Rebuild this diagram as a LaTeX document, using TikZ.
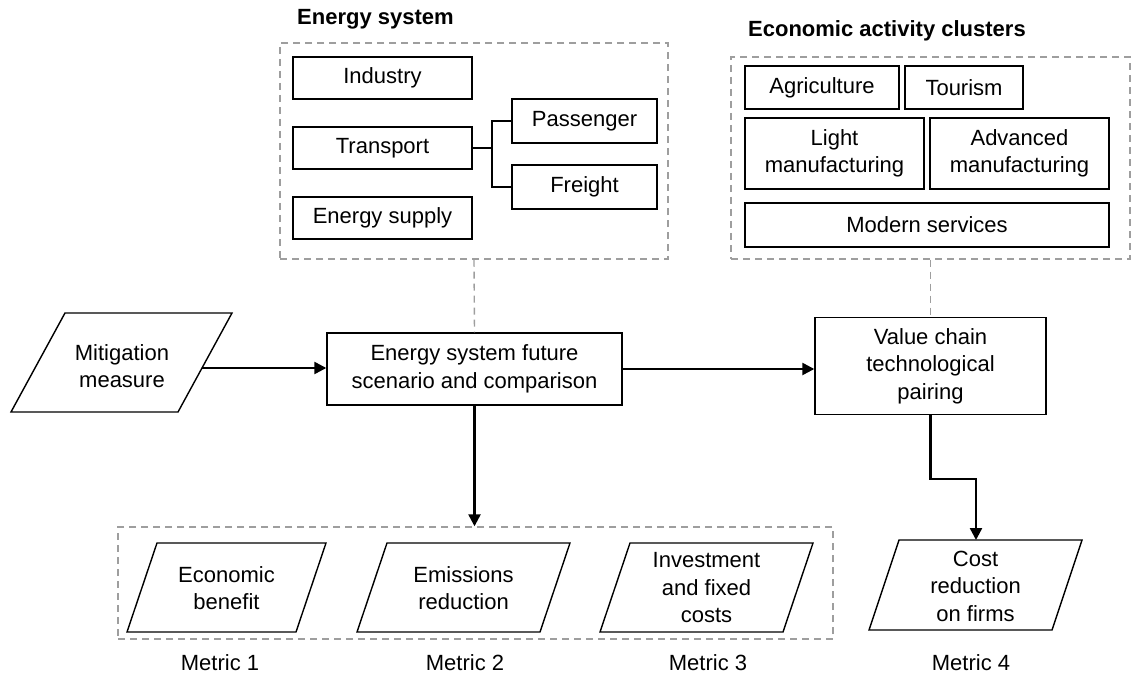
\documentclass[tikz,border=0pt]{standalone}
\usepackage{fontspec}
\setmainfont{Liberation Sans}
\usetikzlibrary{arrows.meta}
\begin{document}
\begin{tikzpicture}[x=1pt,y=-1pt,
  every node/.style={font=\fontsize{22}{27.5}\selectfont},
  box/.style={draw=black,line width=1.4pt,fill=white,align=center,inner sep=0pt},
  grp/.style={draw=black!38,line width=1.4pt,dash pattern=on 7pt off 5pt,inner sep=0pt},
  para/.style={draw=black,line width=1.4pt},
  txt/.style={align=center,inner sep=0pt},
  arr/.style={draw=black,line width=2.4pt,-{Triangle[length=12pt,width=12pt]}},
  lnk/.style={draw=black,line width=1.4pt},
  dlnk/.style={draw=black!38,line width=1.4pt,dash pattern=on 7pt off 5pt},
  ttl/.style={font=\fontsize{22}{26}\selectfont\bfseries,anchor=west,inner sep=0pt}]
\useasboundingbox (0,0) rectangle (1140,679);

% group boxes
\node[grp,minimum width=388pt,minimum height=216pt] (esbox) at (474,151) {};
\node[grp,minimum width=399pt,minimum height=202pt] (ecbox) at (930.5,158) {};
\node[grp,minimum width=715pt,minimum height=112pt] (metbox) at (475.5,583) {};

\node[ttl] (estitle) at (297,19) {Energy system};
\node[ttl] (ectitle) at (748,31) {Economic activity clusters};

% energy system
\node[box,minimum width=179pt,minimum height=42pt] (ind) at (382.5,78) {Industry};
\node[box,minimum width=179pt,minimum height=42pt] (tr) at (382.5,148) {Transport};
\node[box,minimum width=179pt,minimum height=42pt] (sup) at (382.5,218) {Energy supply};
\node[box,minimum width=145pt,minimum height=44pt] (pas) at (584.5,121) {Passenger};
\node[box,minimum width=145pt,minimum height=44pt] (fr) at (584.5,187) {Freight};
\coordinate (br) at (492,148);
\draw[lnk] (tr.east) -- (br);
\draw[lnk] (pas.west) -| (br) |- (fr.west);

% economic clusters
\node[box,minimum width=154pt,minimum height=43pt] (agr) at (822,87.5) {Agriculture};
\node[box,minimum width=118pt,minimum height=43pt] (tou) at (964,87.5) {Tourism};
\node[box,minimum width=179pt,minimum height=71pt] (lm) at (834.5,153.5) {Light\\manufacturing};
\node[box,minimum width=179pt,minimum height=71pt] (am) at (1019.5,153.5) {Advanced\\manufacturing};
\node[box,minimum width=364pt,minimum height=44pt] (ms) at (927,225) {Modern services};

% main row
\draw[para] (65,313) -- (232,313) -- (178,412) -- (11,412) -- cycle;
\node[txt] (mit) at (122,366) {Mitigation\\measure};
\coordinate (mitR) at (202,368);
\node[box,minimum width=295pt,minimum height=72pt] (esf) at (474.5,369) {Energy system future\\scenario and comparison};
\node[box,minimum width=231pt,minimum height=97pt] (vc) at (930.5,366) {Value chain\\technological\\pairing};

\draw[dlnk] (esbox.south) -- (esf.north);
\draw[dlnk] (ecbox.south) -- (vc.north);

\draw[arr] (mitR) -- (mitR -| esf.west);
\draw[arr] (esf.east) -- (esf.east -| vc.west);
\draw[arr] (esf.south) -- (esf.south |- metbox.north);

% metrics
\draw[para] (157,543) -- (326,543) -- (296,632) -- (127,632) -- cycle;
\node[txt] (m1) at (226.5,588) {Economic\\benefit};
\draw[para] (387,543) -- (570,543) -- (540,632) -- (357,632) -- cycle;
\node[txt] (m2) at (463.5,588) {Emissions\\reduction};
\draw[para] (630,543) -- (813,543) -- (783,632) -- (600,632) -- cycle;
\node[txt] (m3) at (706.5,588) {Investment\\and fixed\\costs};
\draw[para] (899,540) -- (1082,540) -- (1052,630) -- (869,630) -- cycle;
\node[txt] (m4) at (975.5,586) {Cost\\reduction\\on firms};
\coordinate (costtop) at (976,540);
\coordinate (bend) at (976,479);
\draw[arr] (vc.south) |- (bend) -- (costtop);

\node[txt] (l1) at (220,663) {Metric 1};
\node[txt] (l2) at (465,663) {Metric 2};
\node[txt] (l3) at (708,663) {Metric 3};
\node[txt] (l4) at (971,663) {Metric 4};
\end{tikzpicture}
\end{document}
